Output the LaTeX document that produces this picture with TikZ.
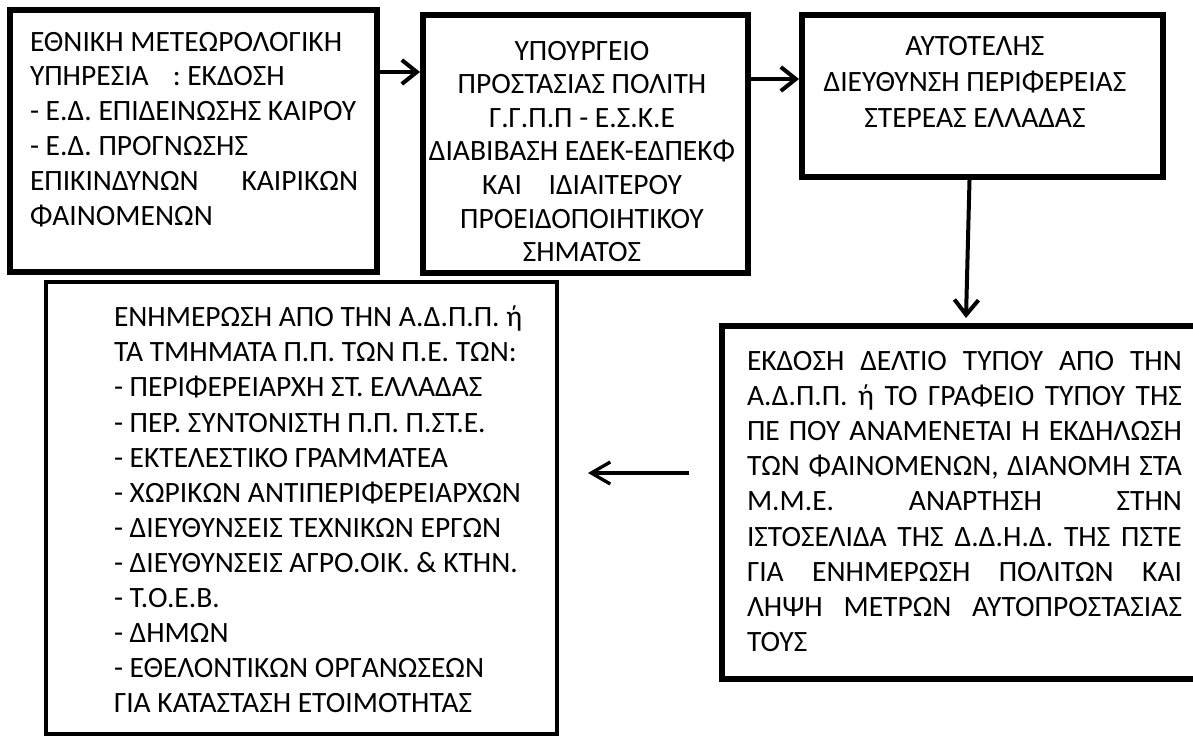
\documentclass[tikz,border=0pt]{standalone}
\usepackage{fontspec}
\setmainfont{Carlito}
\usetikzlibrary{arrows.meta}
\newcommand{\jl}[2]{\makebox[#1][s]{#2}}
\begin{document}
\begin{tikzpicture}[x=1pt,y=-1pt,
  box/.style={draw=black, line width=6pt, anchor=north west, inner sep=0pt},
  thinbox/.style={draw=black, line width=4.5pt, anchor=north west, inner sep=0pt},
  txt/.style={inner sep=0pt, outer sep=0pt},
  arr/.style={line width=4pt, -{Straight Barb[length=15pt,width=24pt]}},
  thinarr/.style={line width=3.3pt, -{Straight Barb[length=19pt,width=22pt]}}]
\useasboundingbox[fill=white] (0,0) rectangle (1193,738);

% boxes
\node[box, minimum width=367pt, minimum height=262pt] (b1) at (7,7) {};
\node[box, minimum width=325pt, minimum height=258pt] (b2) at (420,12) {};
\node[box, minimum width=361pt, minimum height=162pt] (b3) at (799,12) {};
\node[box, minimum width=485pt, minimum height=353pt] (b4) at (719,323) {};
\node[thinbox, minimum width=511pt, minimum height=452pt] (b5) at (43.75,279.75) {};

% texts
\node[txt, anchor=north west, align=left,
      font=\fontsize{29.5pt}{34.8pt}\selectfont] (t1) at (30,32) {%
ΕΘΝΙΚΗ ΜΕΤΕΩΡΟΛΟΓΙΚΗ\\
ΥΠΗΡΕΣΙΑ\hspace{24pt}: ΕΚΔΟΣΗ\\
- Ε.Δ. ΕΠΙΔΕΙΝΩΣΗΣ ΚΑΙΡΟΥ\\
- Ε.Δ. ΠΡΟΓΝΩΣΗΣ\\
\jl{328pt}{ΕΠΙΚΙΝΔΥΝΩΝ ΚΑΙΡΙΚΩΝ}\\
ΦΑΙΝΟΜΕΝΩΝ};

\node[txt, anchor=north, align=center,
      font=\fontsize{29.5pt}{33.6pt}\selectfont] (t2) at (582,41) {%
ΥΠΟΥΡΓΕΙΟ\\
ΠΡΟΣΤΑΣΙΑΣ ΠΟΛΙΤΗ\\
Γ.Γ.Π.Π - Ε.Σ.Κ.Ε\\
ΔΙΑΒΙΒΑΣΗ ΕΔΕΚ-ΕΔΠΕΚΦ\\
ΚΑΙ\hspace{20pt} ΙΔΙΑΙΤΕΡΟΥ\\
ΠΡΟΕΙΔΟΠΟΙΗΤΙΚΟΥ\\
ΣΗΜΑΤΟΣ};

\node[txt, anchor=north, align=center,
      font=\fontsize{29.5pt}{36pt}\selectfont] (t3) at (975,36) {%
ΑΥΤΟΤΕΛΗΣ\\
ΔΙΕΥΘΥΝΣΗ ΠΕΡΙΦΕΡΕΙΑΣ\\
ΣΤΕΡΕΑΣ ΕΛΛΑΔΑΣ};

\node[txt, anchor=north west, align=left,
      font=\fontsize{29.5pt}{35.2pt}\selectfont] (t4) at (747,351) {%
\jl{435pt}{ΕΚΔΟΣΗ ΔΕΛΤΙΟ ΤΥΠΟΥ ΑΠΟ ΤΗΝ}\\
\jl{435pt}{Α.Δ.Π.Π. ή ΤΟ ΓΡΑΦΕΙΟ ΤΥΠΟΥ ΤΗΣ}\\
\jl{435pt}{ΠΕ ΠΟΥ ΑΝΑΜΕΝΕΤΑΙ Η ΕΚΔΗΛΩΣΗ}\\
\jl{435pt}{ΤΩΝ ΦΑΙΝΟΜΕΝΩΝ, ΔΙΑΝΟΜΗ ΣΤΑ}\\
\jl{435pt}{Μ.Μ.Ε. ΑΝΑΡΤΗΣΗ ΣΤΗΝ}\\
\jl{435pt}{ΙΣΤΟΣΕΛΙΔΑ ΤΗΣ Δ.Δ.Η.Δ. ΤΗΣ ΠΣΤΕ}\\
\jl{435pt}{ΓΙΑ ΕΝΗΜΕΡΩΣΗ ΠΟΛΙΤΩΝ ΚΑΙ}\\
\jl{435pt}{ΛΗΨΗ ΜΕΤΡΩΝ ΑΥΤΟΠΡΟΣΤΑΣΙΑΣ}\\
ΤΟΥΣ};

\node[txt, anchor=north west, align=left,
      font=\fontsize{29.5pt}{35.1pt}\selectfont] (t5) at (114,306) {%
ΕΝΗΜΕΡΩΣΗ ΑΠΟ ΤΗΝ Α.Δ.Π.Π. ή\\
ΤΑ ΤΜΗΜΑΤΑ Π.Π. ΤΩΝ Π.Ε. ΤΩΝ:\\
- ΠΕΡΙΦΕΡΕΙΑΡΧΗ ΣΤ. ΕΛΛΑΔΑΣ\\
- ΠΕΡ. ΣΥΝΤΟΝΙΣΤΗ Π.Π. Π.ΣΤ.Ε.\\
- ΕΚΤΕΛΕΣΤΙΚΟ ΓΡΑΜΜΑΤΕΑ\\
- ΧΩΡΙΚΩΝ ΑΝΤΙΠΕΡΙΦΕΡΕΙΑΡΧΩΝ\\
- ΔΙΕΥΘΥΝΣΕΙΣ ΤΕΧΝΙΚΩΝ ΕΡΓΩΝ\\
- ΔΙΕΥΘΥΝΣΕΙΣ ΑΓΡΟ.ΟΙΚ. \& ΚΤΗΝ.\\
- Τ.Ο.Ε.Β.\\
- ΔΗΜΩΝ\\
- ΕΘΕΛΟΝΤΙΚΩΝ ΟΡΓΑΝΩΣΕΩΝ\\
ΓΙΑ ΚΑΤΑΣΤΑΣΗ ΕΤΟΙΜΟΤΗΤΑΣ};

% connectors
\coordinate (y1) at (0,72);
\coordinate (y2) at (0,79);
\coordinate (x3) at (969.5,0);
\coordinate (tip3) at (966,318);
\coordinate (a4s) at (689,473);
\coordinate (a4e) at (588,473);
\draw[arr] (b1.east |- y1) -- (b2.west |- y1);
\draw[arr] (b2.east |- y2) -- (b3.west |- y2);
\draw[arr] (x3 |- b3.south) -- (tip3);
\draw[thinarr] (a4s) -- (a4e);
\end{tikzpicture}
\end{document}
